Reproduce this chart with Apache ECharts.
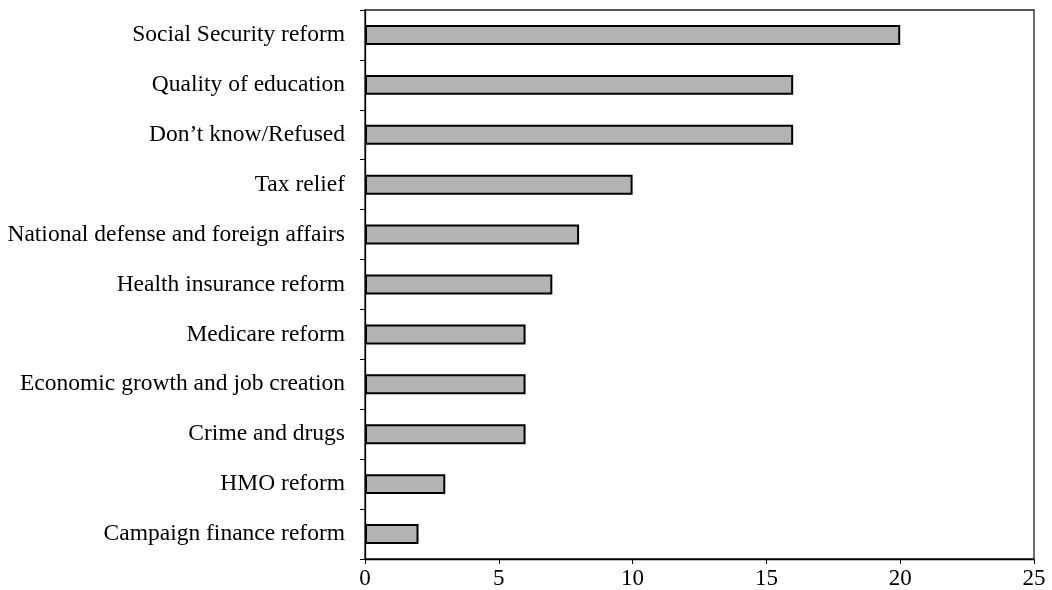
<!DOCTYPE html>
<html><head><meta charset="utf-8">
<script src="https://cdn.jsdelivr.net/npm/echarts@6/dist/echarts.min.js"></script>
<style>html,body{margin:0;padding:0;background:#fff}#c{width:1052px;height:590px}</style>
</head><body><div id="c"></div>
<script>
const categories = ["Social Security reform","Quality of education","Don\u2019t know/Refused","Tax relief","National defense and foreign affairs","Health insurance reform","Medicare reform","Economic growth and job creation","Crime and drugs","HMO reform","Campaign finance reform"];
const values = [20,16,16,10,8,7,6,6,6,3,2];
const xTicks = [0,5,10,15,20,25];

const chart = echarts.init(document.getElementById('c'), null, {renderer:'canvas'});
const font = 'Liberation Serif';
chart.setOption({
  animation:false,
  grid:{left:365,right:18,top:10,bottom:30,show:true,borderColor:'#222',borderWidth:1.3,backgroundColor:'transparent'},
  xAxis:{type:'value',min:0,max:25,interval:5,
    axisLine:{show:true,lineStyle:{color:'#000',width:1.3}},
    axisTick:{show:true,length:5,lineStyle:{color:'#000'}},
    splitLine:{show:false},
    axisLabel:{fontFamily:font,fontSize:23,color:'#000',margin:8,
      formatter:function(v){return xTicks.indexOf(v)>=0?String(v):'';}}},
  yAxis:{type:'category',data:categories,inverse:true,
    axisLine:{show:true,lineStyle:{color:'#000',width:1.3}},
    axisTick:{show:true,length:5,lineStyle:{color:'#000'}},
    axisLabel:{fontFamily:font,fontSize:23.5,color:'#000',margin:20}},
  series:[{type:'bar',data:values,barWidth:'40%',
    itemStyle:{color:'#b3b3b3',borderColor:'#000',borderWidth:2}}]
});
</script></body></html>
